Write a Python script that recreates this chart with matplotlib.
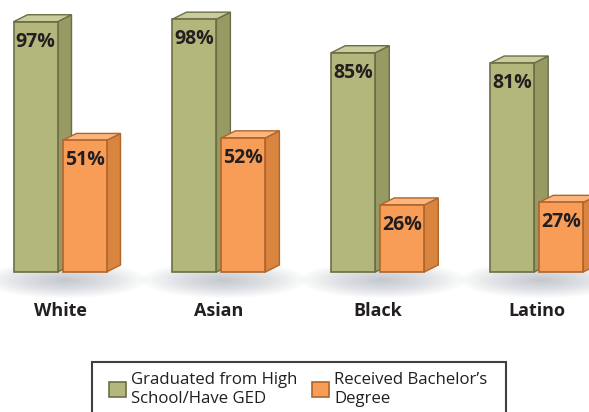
import matplotlib
matplotlib.use("Agg")
import matplotlib.pyplot as plt
import numpy as np
from matplotlib.patches import Polygon, Rectangle, Patch, Ellipse

# Data
groups = ["White", "Asian", "Black", "Latino"]
high_school = [97, 98, 85, 81]
bachelor = [51, 52, 26, 27]
series_labels = ["Graduated from High\nSchool/Have GED", "Received Bachelor\u2019s\nDegree"]

# Colours: front, side, top, edge
green = ("#b3b77c", "#979a63", "#c9cc9b", "#6b6e45")
orange = ("#f89d58", "#d9843f", "#fbb57d", "#b0652b")
text_col = "#231f20"

W, H = 589, 412
fig = plt.figure(figsize=(W / 100, H / 100), dpi=100)
ax = fig.add_axes([0, 0, 1, 1])

# pixel geometry -> data units
px_per_pct = 2.58
px_per_grp = 158.9
base_px = 272
first_center_px = 60
ax.set_ylim((base_px - H) / px_per_pct, base_px / px_per_pct)
ax.set_xlim(-first_center_px / px_per_grp, (W - first_center_px) / px_per_grp)
ax.axis("off")

bar_w = 44 / px_per_grp
gap = 5 / px_per_grp
dx = 14 / px_per_grp
dy = 7 / px_per_pct

x = np.arange(len(groups))

# soft shadow under each group
for xi in x:
    n = 16
    for k in range(n):
        s = 1 - k / n
        ax.add_patch(Ellipse((xi + 0.03, -8 / px_per_pct), 165 / px_per_grp * s, 36 / px_per_pct * s,
                             facecolor="#7d8594", edgecolor="none", alpha=0.03, zorder=0))


def bar3d(xc, val, cols, z):
    front, side, top, edge = cols
    l, r = xc - bar_w / 2, xc + bar_w / 2
    ax.add_patch(Polygon([(r, 0), (r + dx, dy), (r + dx, val + dy), (r, val)],
                         facecolor=side, edgecolor=edge, lw=1, joinstyle="miter", zorder=z))
    ax.add_patch(Polygon([(l, val), (l + dx, val + dy), (r + dx, val + dy), (r, val)],
                         facecolor=top, edgecolor=edge, lw=1, joinstyle="miter", zorder=z))
    ax.add_patch(Rectangle((l, 0), bar_w, val, facecolor=front, edgecolor=edge, lw=1.2, zorder=z + 0.5))
    ax.text(xc, val - 20 / px_per_pct, f"{val}%", ha="center", va="center",
            fontsize=14, fontweight="bold", family="Open Sans", color=text_col, zorder=z + 1)


for i, xi in enumerate(x):
    bar3d(xi - (gap + bar_w) / 2, high_school[i], green, 2)
    bar3d(xi + (gap + bar_w) / 2, bachelor[i], orange, 4)
    ax.text(xi, -39 / px_per_pct, groups[i], ha="center", va="center",
            fontsize=13, fontweight="bold", family="Open Sans", color=text_col)

# legend box
fig.patches.append(Rectangle((92 / W, 1 - 430 / H), 414 / W, 68 / H, transform=fig.transFigure,
                             facecolor="white", edgecolor="#404040", lw=1.5, zorder=5))
handles = [Patch(facecolor=green[0], edgecolor=green[3], lw=1.2),
           Patch(facecolor=orange[0], edgecolor=orange[3], lw=1.2)]
leg = fig.legend(handles, series_labels, loc="upper left", bbox_to_anchor=(94 / W, 1 - 357 / H),
                 ncol=2, frameon=False, prop={"family": "Open Sans", "size": 12.1},
                 handlelength=1.0, handleheight=1.0, handletextpad=0.3, columnspacing=0.9,
                 labelspacing=0.2, labelcolor=text_col)
leg.set_zorder(6)

fig.savefig("out.png", dpi=100)
